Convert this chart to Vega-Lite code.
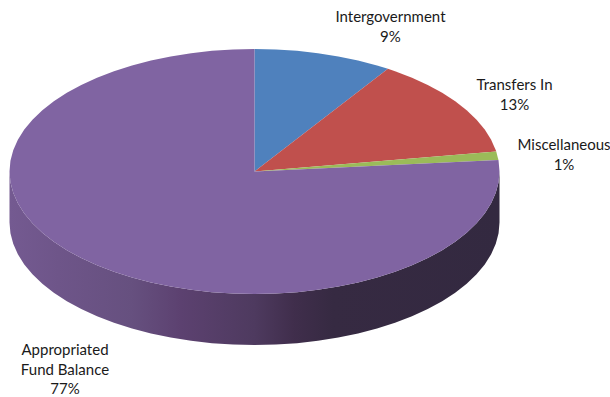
{
"$schema":"https://vega.github.io/schema/vega-lite/v6.json",
"width":610,"height":397,"padding":0,
"autosize":"none",
"background":"white",
"view":{"stroke":null},
"datasets":{
"wall":[
{"x":-1,"top":0,"bottom":-0.4163},{"x":-0.9962,"top":-0.0872,"bottom":-0.5035},{"x":-0.9848,"top":-0.1736,"bottom":-0.5899},{"x":-0.9659,"top":-0.2588,"bottom":-0.6751},{"x":-0.9397,"top":-0.342,"bottom":-0.7583},{"x":-0.9063,"top":-0.4226,"bottom":-0.8389},{"x":-0.866,"top":-0.5,"bottom":-0.9163},{"x":-0.8192,"top":-0.5736,"bottom":-0.9899},{"x":-0.766,"top":-0.6428,"bottom":-1.0591},{"x":-0.7071,"top":-0.7071,"bottom":-1.1234},{"x":-0.6428,"top":-0.766,"bottom":-1.1823},{"x":-0.5736,"top":-0.8192,"bottom":-1.2355},{"x":-0.5,"top":-0.866,"bottom":-1.2823},{"x":-0.4226,"top":-0.9063,"bottom":-1.3226},{"x":-0.342,"top":-0.9397,"bottom":-1.356},{"x":-0.2588,"top":-0.9659,"bottom":-1.3822},{"x":-0.1736,"top":-0.9848,"bottom":-1.4011},{"x":-0.0872,"top":-0.9962,"bottom":-1.4125},{"x":0,"top":-1,"bottom":-1.4163},
{"x":0.0872,"top":-0.9962,"bottom":-1.4125},{"x":0.1736,"top":-0.9848,"bottom":-1.4011},{"x":0.2588,"top":-0.9659,"bottom":-1.3822},{"x":0.342,"top":-0.9397,"bottom":-1.356},{"x":0.4226,"top":-0.9063,"bottom":-1.3226},{"x":0.5,"top":-0.866,"bottom":-1.2823},{"x":0.5736,"top":-0.8192,"bottom":-1.2355},{"x":0.6428,"top":-0.766,"bottom":-1.1823},{"x":0.7071,"top":-0.7071,"bottom":-1.1234},{"x":0.766,"top":-0.6428,"bottom":-1.0591},{"x":0.8192,"top":-0.5736,"bottom":-0.9899},{"x":0.866,"top":-0.5,"bottom":-0.9163},{"x":0.9063,"top":-0.4226,"bottom":-0.8389},{"x":0.9397,"top":-0.342,"bottom":-0.7583},{"x":0.9659,"top":-0.2588,"bottom":-0.6751},{"x":0.9848,"top":-0.1736,"bottom":-0.5899},{"x":0.9962,"top":-0.0872,"bottom":-0.5035},{"x":1,"top":0,"bottom":-0.4163}
],
"slices":[
{"slice":"Intergovernment","o":0,"x":0,"y":0},{"slice":"Intergovernment","o":1,"x":0,"y":1},{"slice":"Intergovernment","o":2,"x":0.0872,"y":0.9962},{"slice":"Intergovernment","o":3,"x":0.1736,"y":0.9848},{"slice":"Intergovernment","o":4,"x":0.2588,"y":0.9659},{"slice":"Intergovernment","o":5,"x":0.342,"y":0.9397},{"slice":"Intergovernment","o":6,"x":0.4226,"y":0.9063},{"slice":"Intergovernment","o":7,"x":0.5,"y":0.866},{"slice":"Intergovernment","o":8,"x":0.5446,"y":0.8387},
{"slice":"Transfers In","o":0,"x":0,"y":0},{"slice":"Transfers In","o":1,"x":0.5446,"y":0.8387},{"slice":"Transfers In","o":2,"x":0.5736,"y":0.8192},{"slice":"Transfers In","o":3,"x":0.6428,"y":0.766},{"slice":"Transfers In","o":4,"x":0.7071,"y":0.7071},{"slice":"Transfers In","o":5,"x":0.766,"y":0.6428},{"slice":"Transfers In","o":6,"x":0.8192,"y":0.5736},{"slice":"Transfers In","o":7,"x":0.866,"y":0.5},{"slice":"Transfers In","o":8,"x":0.9063,"y":0.4226},{"slice":"Transfers In","o":9,"x":0.9397,"y":0.342},{"slice":"Transfers In","o":10,"x":0.9659,"y":0.2588},{"slice":"Transfers In","o":11,"x":0.9848,"y":0.1736},{"slice":"Transfers In","o":12,"x":0.9866,"y":0.1633},
{"slice":"Miscellaneous","o":0,"x":0,"y":0},{"slice":"Miscellaneous","o":1,"x":0.9866,"y":0.1633},{"slice":"Miscellaneous","o":2,"x":0.9956,"y":0.0941},
{"slice":"Appropriated Fund Balance","o":0,"x":0,"y":0},{"slice":"Appropriated Fund Balance","o":1,"x":0.9956,"y":0.0941},{"slice":"Appropriated Fund Balance","o":2,"x":0.9962,"y":0.0872},{"slice":"Appropriated Fund Balance","o":3,"x":1,"y":0},{"slice":"Appropriated Fund Balance","o":4,"x":0.9962,"y":-0.0872},{"slice":"Appropriated Fund Balance","o":5,"x":0.9848,"y":-0.1736},{"slice":"Appropriated Fund Balance","o":6,"x":0.9659,"y":-0.2588},{"slice":"Appropriated Fund Balance","o":7,"x":0.9397,"y":-0.342},{"slice":"Appropriated Fund Balance","o":8,"x":0.9063,"y":-0.4226},{"slice":"Appropriated Fund Balance","o":9,"x":0.866,"y":-0.5},{"slice":"Appropriated Fund Balance","o":10,"x":0.8192,"y":-0.5736},{"slice":"Appropriated Fund Balance","o":11,"x":0.766,"y":-0.6428},{"slice":"Appropriated Fund Balance","o":12,"x":0.7071,"y":-0.7071},{"slice":"Appropriated Fund Balance","o":13,"x":0.6428,"y":-0.766},{"slice":"Appropriated Fund Balance","o":14,"x":0.5736,"y":-0.8192},{"slice":"Appropriated Fund Balance","o":15,"x":0.5,"y":-0.866},{"slice":"Appropriated Fund Balance","o":16,"x":0.4226,"y":-0.9063},{"slice":"Appropriated Fund Balance","o":17,"x":0.342,"y":-0.9397},{"slice":"Appropriated Fund Balance","o":18,"x":0.2588,"y":-0.9659},{"slice":"Appropriated Fund Balance","o":19,"x":0.1736,"y":-0.9848},{"slice":"Appropriated Fund Balance","o":20,"x":0.0872,"y":-0.9962},{"slice":"Appropriated Fund Balance","o":21,"x":0,"y":-1},{"slice":"Appropriated Fund Balance","o":22,"x":-0.0872,"y":-0.9962},{"slice":"Appropriated Fund Balance","o":23,"x":-0.1736,"y":-0.9848},{"slice":"Appropriated Fund Balance","o":24,"x":-0.2588,"y":-0.9659},{"slice":"Appropriated Fund Balance","o":25,"x":-0.342,"y":-0.9397},{"slice":"Appropriated Fund Balance","o":26,"x":-0.4226,"y":-0.9063},{"slice":"Appropriated Fund Balance","o":27,"x":-0.5,"y":-0.866},{"slice":"Appropriated Fund Balance","o":28,"x":-0.5736,"y":-0.8192},{"slice":"Appropriated Fund Balance","o":29,"x":-0.6428,"y":-0.766},{"slice":"Appropriated Fund Balance","o":30,"x":-0.7071,"y":-0.7071},{"slice":"Appropriated Fund Balance","o":31,"x":-0.766,"y":-0.6428},{"slice":"Appropriated Fund Balance","o":32,"x":-0.8192,"y":-0.5736},{"slice":"Appropriated Fund Balance","o":33,"x":-0.866,"y":-0.5},{"slice":"Appropriated Fund Balance","o":34,"x":-0.9063,"y":-0.4226},{"slice":"Appropriated Fund Balance","o":35,"x":-0.9397,"y":-0.342},{"slice":"Appropriated Fund Balance","o":36,"x":-0.9659,"y":-0.2588},{"slice":"Appropriated Fund Balance","o":37,"x":-0.9848,"y":-0.1736},{"slice":"Appropriated Fund Balance","o":38,"x":-0.9962,"y":-0.0872},{"slice":"Appropriated Fund Balance","o":39,"x":-1,"y":0},{"slice":"Appropriated Fund Balance","o":40,"x":-0.9962,"y":0.0872},{"slice":"Appropriated Fund Balance","o":41,"x":-0.9848,"y":0.1736},{"slice":"Appropriated Fund Balance","o":42,"x":-0.9659,"y":0.2588},{"slice":"Appropriated Fund Balance","o":43,"x":-0.9397,"y":0.342},{"slice":"Appropriated Fund Balance","o":44,"x":-0.9063,"y":0.4226},{"slice":"Appropriated Fund Balance","o":45,"x":-0.866,"y":0.5},{"slice":"Appropriated Fund Balance","o":46,"x":-0.8192,"y":0.5736},{"slice":"Appropriated Fund Balance","o":47,"x":-0.766,"y":0.6428},{"slice":"Appropriated Fund Balance","o":48,"x":-0.7071,"y":0.7071},{"slice":"Appropriated Fund Balance","o":49,"x":-0.6428,"y":0.766},{"slice":"Appropriated Fund Balance","o":50,"x":-0.5736,"y":0.8192},{"slice":"Appropriated Fund Balance","o":51,"x":-0.5,"y":0.866},{"slice":"Appropriated Fund Balance","o":52,"x":-0.4226,"y":0.9063},{"slice":"Appropriated Fund Balance","o":53,"x":-0.342,"y":0.9397},{"slice":"Appropriated Fund Balance","o":54,"x":-0.2588,"y":0.9659},{"slice":"Appropriated Fund Balance","o":55,"x":-0.1736,"y":0.9848},{"slice":"Appropriated Fund Balance","o":56,"x":-0.0872,"y":0.9962},{"slice":"Appropriated Fund Balance","o":57,"x":0,"y":1}
],
"labels":[
{"label":"Intergovernment\n9%","x":0.555,"y":1.2612},
{"label":"Transfers In\n13%","x":1.0612,"y":0.7061},
{"label":"Miscellaneous\n1%","x":1.2633,"y":0.2163},
{"label":"Appropriated\nFund Balance\n77%","x":-0.7735,"y":-1.4571}
]
},
"layer":[
{
"data":{"name":"wall"},
"mark":{"type":"area","interpolate":"linear","fill":{"gradient":"linear","x1":0,"y1":0,"x2":1,"y2":0,"stops":[{"offset":0,"color":"#745a91"},{"offset":0.1,"color":"#6e5589"},{"offset":0.25,"color":"#66507f"},{"offset":0.35,"color":"#5c4170"},{"offset":0.5,"color":"#4e3a5f"},{"offset":0.58,"color":"#402e4c"},{"offset":0.66,"color":"#362a42"},{"offset":1,"color":"#332940"}]}},
"encoding":{
"x":{"field":"x","type":"quantitative","scale":{"domain":[-1.0388,1.451]},"axis":null},
"y":{"field":"top","type":"quantitative","scale":{"domain":[-1.8408,1.4]},"axis":null},
"y2":{"field":"bottom"}
}
},
{
"data":{"name":"slices"},
"mark":{"type":"line","interpolate":"linear","strokeWidth":0},
"encoding":{
"x":{"field":"x","type":"quantitative","scale":{"domain":[-1.0388,1.451]},"axis":null},
"y":{"field":"y","type":"quantitative","scale":{"domain":[-1.8408,1.4]},"axis":null},
"order":{"field":"o","type":"quantitative"},
"fill":{"field":"slice","type":"nominal","legend":null,"scale":{"domain":["Intergovernment","Transfers In","Miscellaneous","Appropriated Fund Balance"],"range":["#4f81bd","#c0504d","#9bbb59","#8064a2"]}}
}
},
{
"data":{"name":"labels"},
"mark":{"type":"text","font":"Lato","fontSize":15,"color":"#1a1a1a","lineBreak":"\n","lineHeight":19.7,"align":"center","baseline":"middle"},
"encoding":{
"x":{"field":"x","type":"quantitative","scale":{"domain":[-1.0388,1.451]},"axis":null},
"y":{"field":"y","type":"quantitative","scale":{"domain":[-1.8408,1.4]},"axis":null},
"text":{"field":"label","type":"nominal"}
}
}
]
}
